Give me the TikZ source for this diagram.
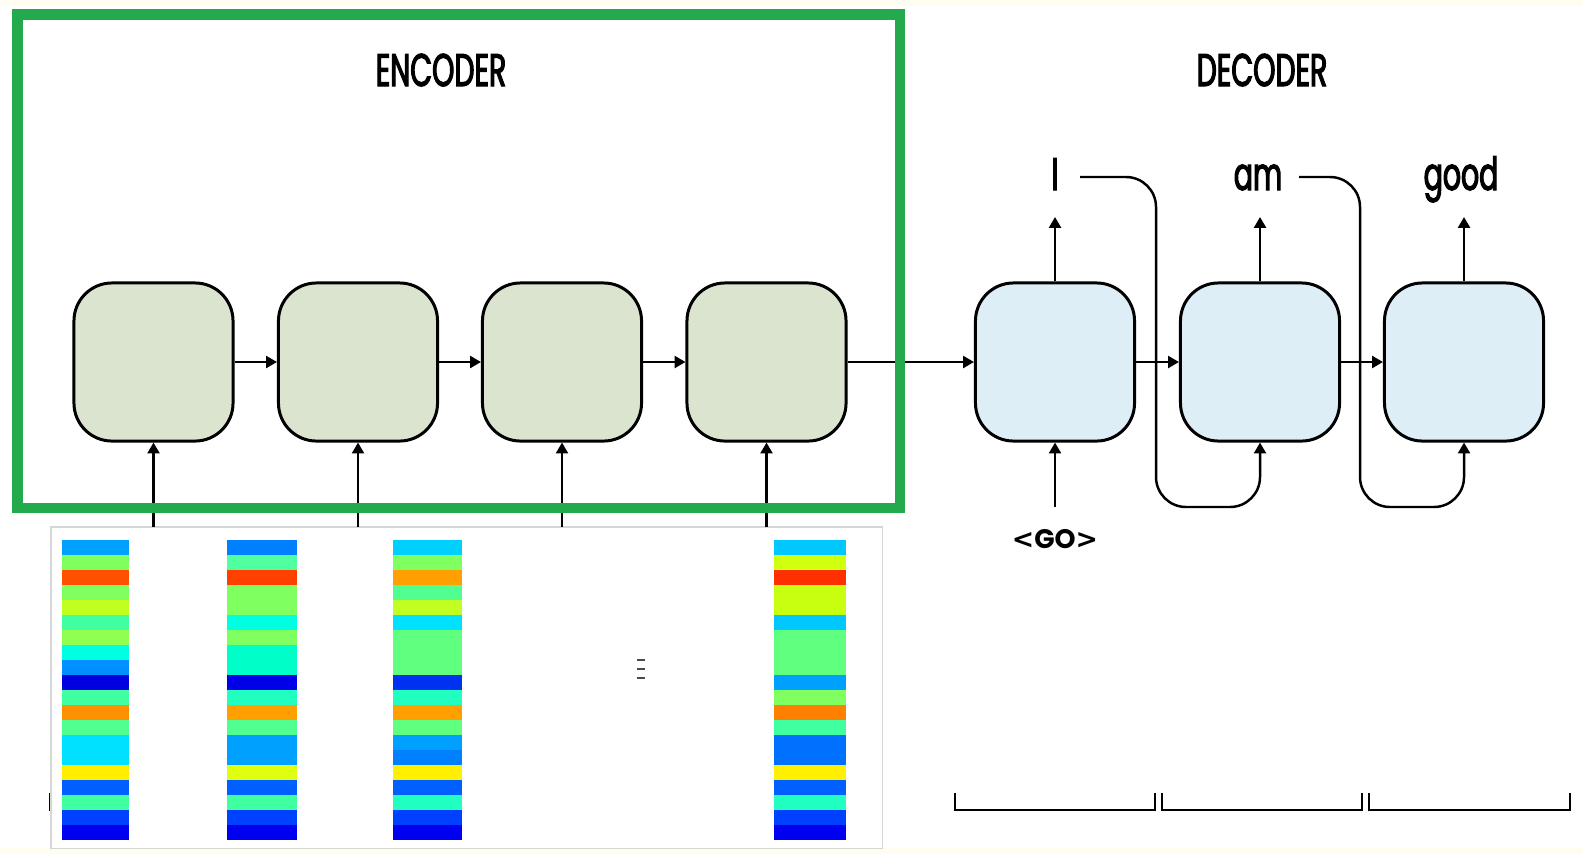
\documentclass[tikz,border=0pt]{standalone}
\usepackage{fontspec}
\usetikzlibrary{arrows.meta}
\newfontfamily\lblfont[FakeStretch=0.62,FakeBold=2.5]{Poppins}
\newfontfamily\gofont{Poppins}
\newfontfamily\brfont{DejaVu Sans}
\definecolor{encfill}{HTML}{DAE4CF}
\definecolor{decfill}{HTML}{DDEEF6}
\definecolor{grn}{HTML}{22AA4C}
\definecolor{cream}{HTML}{FFFDF0}
\definecolor{panelgray}{HTML}{D6D6D6}
\newcommand\colbar[3]{%
  \foreach \c [count=\i from 0] in {#3} {%
    \definecolor{tmpc}{HTML}{\c}%
    \fill[tmpc] (#1,{540+\i*15}) rectangle (#2,{540+(\i+1)*15});
  }}
\begin{document}
\begin{tikzpicture}[x=0.01cm,y=-0.01cm,
  cell/.style={draw=black,line width=0.85pt,rounded corners=0.38cm,
    minimum width=1.59cm,minimum height=1.58cm,inner sep=0pt},
  enc/.style={cell,fill=encfill},
  dec/.style={cell,fill=decfill},
  arr/.style={line width=0.7pt,-{Triangle[length=3.1pt,width=3.4pt]}},
  lbl/.style={font=\lblfont\fontsize{13}{13}\selectfont,inner sep=0pt,anchor=base},
  golbl/.style={font=\gofont\bfseries\fontsize{7.6}{7.6}\selectfont,inner sep=0pt,anchor=base},
  brk/.style={line width=0.8pt}]
\useasboundingbox (0,0) rectangle (1583,854);
\fill[white] (0,0) rectangle (1583,854);
\fill[cream] (0,848) rectangle (1583,854);
\fill[cream] (0,0) rectangle (1583,6);

% titles
\node[lbl] (enct) at (441,86) {ENCODER};
\node[lbl] (dect) at (1262,86) {DECODER};

% brackets (partly hidden left one)
\draw[brk] (50.5,793) -- (50.5,811);
\draw[brk] (955,793) -- (955,810) -- (1155,810) -- (1155,793);
\draw[brk] (1162,793) -- (1162,810) -- (1362,810) -- (1362,793);
\draw[brk] (1369,793) -- (1369,810) -- (1570,810) -- (1570,793);

% encoder cells
\node[enc] (e1) at (153.5,362) {};
\node[enc] (e2) at (358,362) {};
\node[enc] (e3) at (562,362) {};
\node[enc] (e4) at (766.5,362) {};
% decoder cells
\node[dec] (d1) at (1055,362) {};
\node[dec] (d2) at (1260,362) {};
\node[dec] (d3) at (1464,362) {};

% input panel
\node[draw=panelgray,line width=0.3pt,fill=white,anchor=north west,outer sep=0pt,
  minimum width=8.31cm,minimum height=3.21cm,inner sep=0pt] (panel) at (51,527) {};
\colbar{62}{129}{00A0FF,80FF60,FF5000,80FF60,C0FF20,40FFA0,90FF50,00FFE0,0090FF,0000E0,40FFA0,FF9000,50FF90,00E0FF,00E0FF,FFEE00,0060FF,40FFA0,0040FF,0000F0}
\colbar{227}{297}{0080FF,50FFA0,FF4000,80FF60,80FF60,00FFE0,80FF60,00FFC8,00FFC8,0000E8,20FFC0,FFA000,50FF90,00A0FF,00A0FF,E0FF10,0060FF,40FFA0,0040FF,0000F0}
\colbar{393}{462}{00D0FF,80FF60,FFA000,50FF90,C0FF20,00E0FF,60FF80,60FF80,60FF80,0030F0,20FFC0,FFA000,60FF80,00A0FF,0080FF,FFF000,0060FF,20FFC0,0040FF,0000F0}
\colbar{774}{846}{00C8FF,D0FF10,FF3000,C8FF10,C8FF10,00C8FF,60FF80,60FF80,60FF80,00A0FF,80FF60,FF8000,40FFA0,0070FF,0070FF,FFF000,0060FF,20FFC0,0040FF,0000F0}
% vertical ellipsis
\foreach \yy in {660,669,678} \draw[line width=0.7pt,black!70] (637,\yy) -- (645,\yy);

% encoder arrows
\draw[arr] (e1) -- (e2);
\draw[arr] (e2) -- (e3);
\draw[arr] (e3) -- (e4);
\draw[arr] (e4) -- (d1);
\draw[arr] (d1) -- (d2);
\draw[arr] (d2) -- (d3);
\foreach \n in {e1,e2,e3,e4} \draw[arr] (\n.south |- panel.north) -- (\n.south);

% decoder outputs
\node[lbl] (w1) at (1055,190) {I};
\node[lbl] (w2) at (1258,190) {am};
\node[lbl] (w3) at (1461,190) {good};
\coordinate (t1) at (1055,217);
\coordinate (t2) at (1260,217);
\coordinate (t3) at (1464,217);
\draw[arr] (d1.north) -- (t1);
\draw[arr] (d2.north) -- (t2);
\draw[arr] (d3.north) -- (t3);

% feedback loops
\coordinate (s1) at (1080,177);
\coordinate (k1) at (1156,507);
\coordinate (s2) at (1299,177);
\coordinate (k2) at (1360,507);
\draw[arr,rounded corners=0.3cm] (s1) -- (k1 |- s1) -- (k1) -- (d2.south |- k1) -- (d2.south);
\draw[arr,rounded corners=0.3cm] (s2) -- (k2 |- s2) -- (k2) -- (d3.south |- k2) -- (d3.south);

% GO input
\node[golbl] (go) at (1055,548) {{\brfont\bfseries\textless}GO{\brfont\bfseries\textgreater}};
\coordinate (g0) at (1055,507);
\draw[arr] (g0) -- (d1.south);

% encoder frame
\node[draw=grn,line width=2.85pt,anchor=north west,outer sep=0pt,minimum width=8.815cm,
  minimum height=4.93cm,inner sep=0pt] (frame) at (17.5,14.5) {};
\end{tikzpicture}
\end{document}
